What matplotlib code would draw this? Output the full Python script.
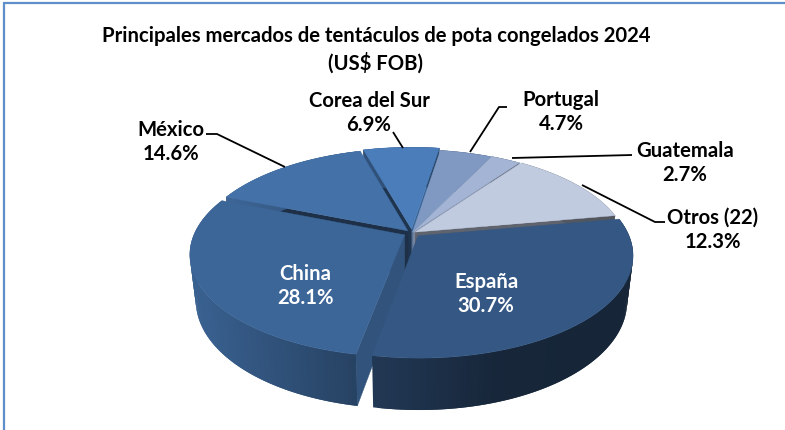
#!/usr/bin/env python3
"""Principales mercados de tentaculos de pota congelados 2024 - 3D pie"""
import matplotlib
matplotlib.use('Agg')
import matplotlib.pyplot as plt
from matplotlib.patches import Polygon
from matplotlib.colors import to_rgb
import numpy as np

# Data
markets = ['España', 'China', 'México', 'Corea del Sur', 'Portugal', 'Guatemala', 'Otros (22)']
shares = [30.7, 28.1, 14.6, 6.9, 4.7, 2.7, 12.3]

# Style
top_colors = ['#345783', '#3c6698', '#4472a8', '#4a7dba', '#7f99c3', '#a3b4d4', '#c1cbdf']
explode = [0.04, 0.04, 0.03, 0.04, 0.008, 0.012, 0.018]
text_colors = ['white', 'white', 'black', 'black', 'black', 'black', 'black']
label_pos = [(486, 294), (305, 286), (171, 142), (369, 113), (561, 112), (685, 163), (713, 230)]
leaders = [
    None,
    None,
    [(206, 135), (217, 135), (285, 168)],
    [(393, 133), (403, 149)],
    [(507, 108), (499, 108), (470, 153)],
    [(632, 156), (512, 159)],
    [(665, 223), (655, 223), (582, 186)],
]
FONT = 'Lato'

# Perspective of the pie on screen (pixels)
X0, Y0 = 412, 234
A, B, K, DEPTH, SHRINK = 210, 98.4, 0.186, 44.7, 0.027
draw_order = [3, 4, 5, 2, 6, 1, 0]


def project(x, y, z=0.0):
    s = 1 / (1 + K * y)
    return (X0 + A * x * s * (1 - SHRINK * z),
            Y0 - B * y * s * (1 - SHRINK * z) + DEPTH * s * z)


def shade(color, factor):
    return tuple(c * factor for c in to_rgb(color))


def wall_factor(px):
    return np.interp(px, [196, 357, 373, 500, 633], [0.95, 0.65, 0.65, 0.44, 0.42])


def draw_slice(ax, wedge, color):
    cx, cy = wedge.center
    t1, t2 = np.radians(wedge.theta1), np.radians(wedge.theta2)

    # radial walls, only those looking at the viewer
    for t, sign in ((t1, 1), (t2, -1)):
        nx, ny = np.sin(t) * sign, -np.cos(t) * sign
        if ny >= 0:
            continue
        rim = (cx + np.cos(t), cy + np.sin(t))
        pts = [project(cx, cy), project(*rim), project(*rim, 1), project(cx, cy, 1)]
        c = shade(color, 0.42 + 0.4 * np.clip(nx, 0, 1))
        ax.add_patch(Polygon(pts, closed=True, fc=c, ec=c, lw=0.3))

    # outer wall as thin overlapping strips so it gets a gradient without seams
    angles = np.linspace(t1, t2, max(int(np.degrees(t2 - t1)), 2) + 1)
    for j in range(len(angles) - 1):
        a, b = angles[j], angles[min(j + 2, len(angles) - 1)]
        pa = (cx + np.cos(a), cy + np.sin(a))
        pb = (cx + np.cos(b), cy + np.sin(b))
        pts = [project(*pa), project(*pb), project(*pb, 1), project(*pa, 1)]
        c = shade(color, wall_factor((pts[0][0] + pts[1][0]) / 2))
        ax.add_patch(Polygon(pts, closed=True, fc=c, ec='none', snap=False))

    # top face
    angles = np.linspace(t1, t2, 80)
    pts = [project(cx, cy)] + [project(cx + np.cos(a), cy + np.sin(a)) for a in angles]
    ax.add_patch(Polygon(pts, closed=True, fc=color, ec=color, lw=0.3))


def create_chart():
    fig = plt.figure(figsize=(7.85, 4.31), dpi=100, facecolor='white')

    # the library works out the slices, they get reprojected afterwards
    pie_ax = fig.add_axes([0, 0, 0.1, 0.1])
    wedges, _ = pie_ax.pie(shares, explode=explode, startangle=10, counterclock=False)
    pie_ax.set_visible(False)

    ax = fig.add_axes([0, 0, 1, 1])
    ax.set_xlim(0, 785)
    ax.set_ylim(431, 0)
    ax.axis('off')

    # frame, only left and top are in the crop
    ax.plot([4, 4, 785], [431, 3.5, 3.5], color='#5f8fc8', lw=1.6, solid_joinstyle='miter')

    for i in draw_order:
        draw_slice(ax, wedges[i], top_colors[i])

    for pts in leaders:
        if pts:
            ax.plot(*zip(*pts), color='black', lw=1.3, solid_capstyle='butt')

    for name, share, (x, y), c in zip(markets, shares, label_pos, text_colors):
        ax.text(x, y, f'{name}\n{share:.1f}%', ha='center', va='center', color=c,
                fontsize=14.6, fontweight='bold', family=FONT, linespacing=1.3)

    ax.text(376, 36, 'Principales mercados de tentáculos de pota congelados 2024',
            ha='center', va='center', fontsize=14.6, fontweight='bold', family=FONT)
    ax.text(376, 63, '(US$ FOB)', ha='center', va='center', fontsize=14.6,
            fontweight='bold', family=FONT)
    return fig


if __name__ == '__main__':
    fig = create_chart()
    fig.savefig('out.png', dpi=100, facecolor='white')
    plt.close(fig)
